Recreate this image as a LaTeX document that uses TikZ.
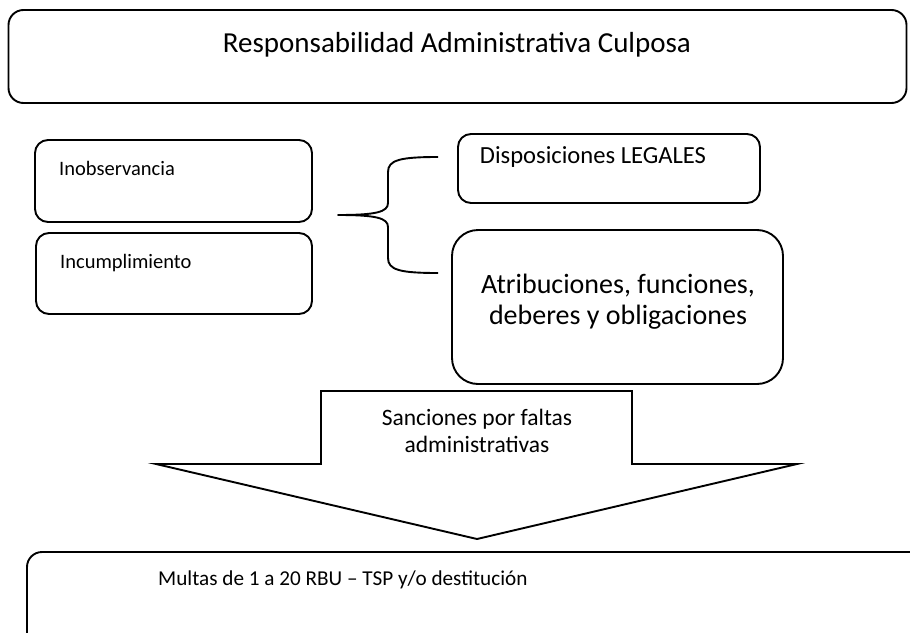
\documentclass[tikz,border=0pt]{standalone}
\usepackage{fontspec}
\setmainfont{Carlito}
\begin{document}
\begin{tikzpicture}[x=1pt,y=-1pt,
  box/.style={draw, line width=1.9pt, rounded corners=13pt, inner sep=0pt},
  txt/.style={inner sep=0pt},
  ln/.style={line width=1.9pt, line join=miter}]
\useasboundingbox (0,0) rectangle (910,632);
% title box
\node[box, rounded corners=15pt, minimum width=898pt, minimum height=93pt] (top) at (457.5,56.5) {};
\node[txt, anchor=base, font=\fontsize{29}{34}\selectfont] (toptext) at (457,52) {Responsabilidad Administrativa Culposa};
% left boxes
\node[box, minimum width=277pt, minimum height=82pt] (inob) at (173.5,181) {};
\node[txt, anchor=base west, font=\fontsize{20.5}{24}\selectfont] (inobtext) at (59,175) {Inobservancia};
\node[box, minimum width=276pt, minimum height=81pt] (incu) at (174,273.5) {};
\node[txt, anchor=base west, font=\fontsize{20.5}{24}\selectfont] (incutext) at (60,268) {Incumplimiento};
% brace
\coordinate (brtip) at (338,215);
\coordinate (brtop) at (438,157);
\coordinate (brbot) at (438,273);
\draw[ln, line join=round] (brtop) .. controls (400,157) and (388,160) .. (388,172)
  -- (388,203) .. controls (388,212) and (376,215) .. (brtip)
  .. controls (376,215) and (388,218) .. (388,227)
  -- (388,258) .. controls (388,270) and (400,273) .. (brbot);
% right boxes
\node[box, minimum width=302pt, minimum height=69pt] (disp) at (609,168.5) {};
\node[txt, anchor=base, font=\fontsize{24.6}{28}\selectfont] (disptext) at (593,163) {Disposiciones LEGALES};
\node[box, rounded corners=26pt, minimum width=331pt, minimum height=154pt] (atri) at (617.5,307) {};
\node[txt, anchor=base, align=center, font=\fontsize{28}{31}\selectfont] (atritext) at (618,324) {Atribuciones, funciones,\\deberes y obligaciones};
% block arrow
\draw[ln] (321,391) coordinate (a1) -- (632,391) -- (632,464) -- (797,464) -- (477,539) coordinate (atip) -- (156,464) -- (321,464) -- cycle;
\node[txt, anchor=base, align=center, font=\fontsize{23.5}{27}\selectfont] (sanc) at (477,452) {Sanciones por faltas\\administrativas};
% bottom box
\begin{scope}
\clip (0,0) rectangle (910,632);
\node[box, rounded corners=15pt, minimum width=920pt, minimum height=120pt] (multa) at (487,612) {};
\end{scope}
\node[txt, anchor=base west, font=\fontsize{21.2}{25}\selectfont] (multatext) at (158,585) {Multas de 1 a 20 RBU – TSP y/o destitución};
\end{tikzpicture}
\end{document}
